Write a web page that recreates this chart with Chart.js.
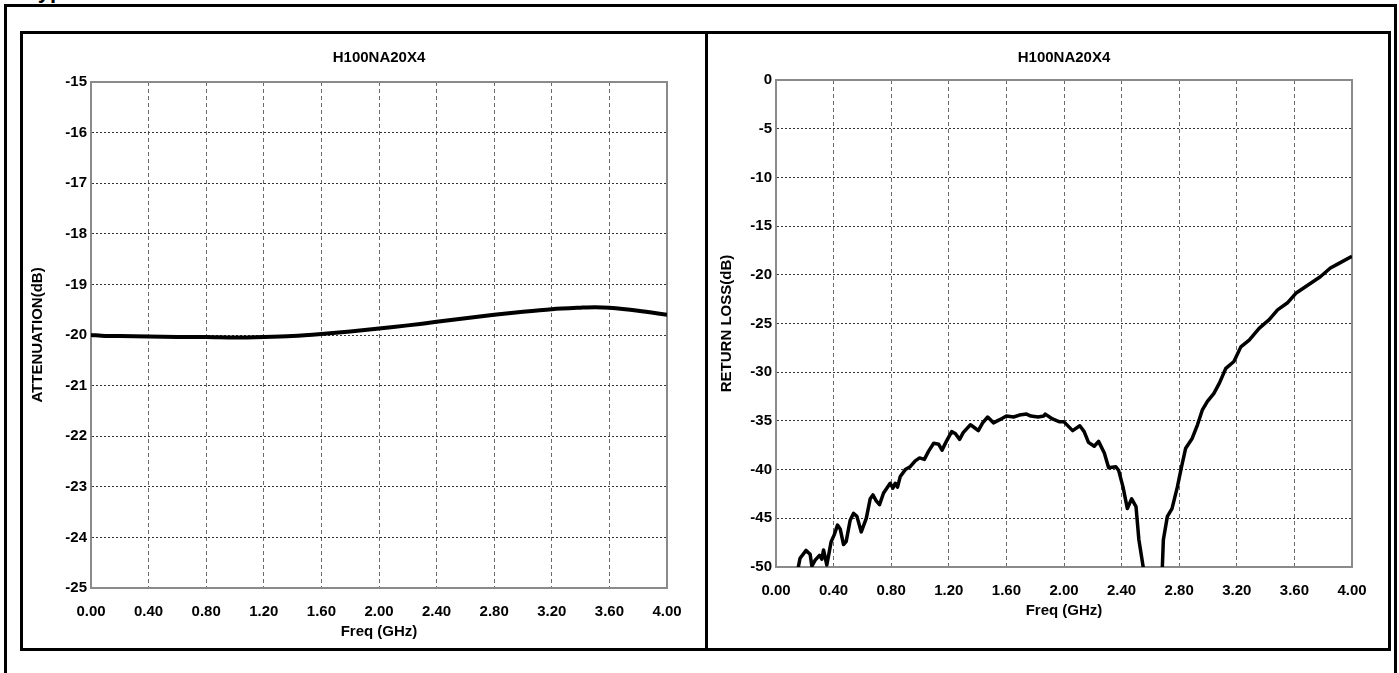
<!DOCTYPE html>
<html>
<head>
<meta charset="utf-8">
<script src="https://cdn.jsdelivr.net/npm/chart.js@4.4.1/dist/chart.umd.min.js"></script>
<style>
  body { margin: 0; width: 1399px; height: 673px; overflow: hidden; position: relative; background: #fff; }
  #head { position: absolute; left: 26px; top: -20px; font: bold 22px/22px "Liberation Sans", Arial, sans-serif; white-space: nowrap; }
  #outer { position: absolute; left: 4px; top: 4px; width: 1393px; height: 800px; border: 3px solid #000; box-sizing: border-box; }
  #panel { position: absolute; left: 20px; top: 31px; width: 1371px; height: 620px; border: 3px solid #000; box-sizing: border-box; }
  #divider { position: absolute; left: 705px; top: 31px; width: 3px; height: 620px; background: #000; }
  canvas { position: absolute; }
  #attenChart { left: 23px; top: 34px; }
  #rlChart { left: 708px; top: 34px; }
</style>
</head>
<body>
<div id="head">Typical Performance</div>
<div id="outer"></div>
<div id="panel"></div>
<div id="divider"></div>
<canvas id="attenChart" width="682" height="614"></canvas>
<canvas id="rlChart" width="680" height="614"></canvas>
<script>
const freqTicks = [0, 0.4, 0.8, 1.2, 1.6, 2.0, 2.4, 2.8, 3.2, 3.6, 4.0];
const attenTicks = [-15, -16, -17, -18, -19, -20, -21, -22, -23, -24, -25];
const rlTicks = [0, -5, -10, -15, -20, -25, -30, -35, -40, -45, -50];

// attenuation (left chart)
const attenFreq = [0, 0.1, 0.2, 0.4, 0.6, 0.8, 1.0, 1.2, 1.4, 1.6, 1.8, 2.0, 2.2, 2.4, 2.6, 2.8, 3.0, 3.2, 3.4, 3.5, 3.6, 3.8, 4.0];
const attenValues = [-20.00, -20.02, -20.02, -20.03, -20.04, -20.04, -20.05, -20.04, -20.02, -19.98, -19.93, -19.87, -19.81, -19.74, -19.67, -19.60, -19.54, -19.49, -19.46, -19.45, -19.46, -19.52, -19.60];

// return loss (right chart)
const rlFreq = [0.14, 0.155, 0.167, 0.209, 0.237, 0.249, 0.272, 0.302, 0.318, 0.330, 0.353, 0.383, 0.404, 0.427, 0.446, 0.469, 0.487,
  0.515, 0.538, 0.562, 0.592, 0.627, 0.654, 0.673, 0.696, 0.719, 0.747, 0.793, 0.812, 0.828, 0.844, 0.863, 0.898, 0.932, 0.967,
  0.997, 1.03, 1.06, 1.095, 1.13, 1.153, 1.183, 1.22, 1.245, 1.275, 1.30, 1.35, 1.37, 1.405, 1.435, 1.47, 1.51, 1.55, 1.60, 1.65,
  1.69, 1.74, 1.77, 1.82, 1.86, 1.87, 1.92, 1.97, 2.0, 2.06, 2.11, 2.14, 2.17, 2.21, 2.24, 2.28, 2.31, 2.36, 2.38, 2.41, 2.44,
  2.47, 2.50, 2.52, 2.55, 2.58, 2.62, 2.66, 2.683, 2.69, 2.718, 2.75, 2.787, 2.815, 2.845, 2.89, 2.927, 2.96, 2.996, 3.04, 3.08,
  3.124, 3.18, 3.228, 3.286, 3.355, 3.425, 3.483, 3.55, 3.61, 3.70, 3.78, 3.85, 3.90, 4.00];
const rlValues = [-52, -50, -49.1, -48.3, -48.7, -49.9, -49.3, -48.8, -49.2, -48.25, -49.8, -47.4, -46.7, -45.7, -46.1, -47.7, -47.4,
  -45.2, -44.5, -44.8, -46.4, -45.0, -43.0, -42.6, -43.2, -43.6, -42.4, -41.4, -41.9, -41.4, -41.8, -40.7, -40.0, -39.7, -39.1,
  -38.8, -38.95, -38.1, -37.3, -37.4, -38.0, -37.1, -36.1, -36.3, -36.9, -36.2, -35.4, -35.6, -36.0, -35.2, -34.6, -35.2, -34.9, -34.5, -34.6,
  -34.4, -34.3, -34.5, -34.6, -34.5, -34.3, -34.8, -35.1, -35.1, -36.0, -35.5, -36.1, -37.2, -37.6, -37.1, -38.3, -39.8, -39.7, -40.1, -41.8, -44.0,
  -43.0, -43.8, -47.2, -50, -56, -60, -56, -50, -47.2, -44.8, -44.0, -41.8, -39.8, -37.8, -36.8, -35.4, -33.9, -33.0, -32.2, -31.1,
  -29.6, -28.9, -27.4, -26.7, -25.5, -24.6, -23.6, -22.9, -21.9, -21.0, -20.2, -19.3, -18.9, -18.1];

const tickFont = { family: "'Liberation Sans Narrow', 'Liberation Sans', Arial, sans-serif", size: 15, weight: "bold" };
const axisTitleFont = { family: "'Liberation Sans', Arial, sans-serif", size: 15, weight: "bold" };

// solid grey box round the plot area
const plotFrame = {
    id: "plotFrame",
    beforeDatasetsDraw(chart) {
        const a = chart.chartArea;
        const ctx = chart.ctx;
        ctx.save();
        ctx.strokeStyle = "#8a8a8a";
        ctx.lineWidth = 2;
        ctx.strokeRect(a.left, a.top, a.right - a.left, a.bottom - a.top);
        ctx.restore();
    }
};

function makeChart(canvasId, xs, ys, yTicks, yTitle, opts) {
    const points = xs.map((x, i) => ({ x: x, y: ys[i] }));
    return new Chart(document.getElementById(canvasId), {
        type: "line",
        data: {
            datasets: [{
                data: points,
                borderColor: "#000",
                borderWidth: opts.lineWidth,
                pointRadius: 0,
                tension: opts.tension,
                borderJoinStyle: "round",
                clip: 0
            }]
        },
        options: {
            responsive: false,
            animation: false,
            layout: { padding: { left: 0, right: opts.right, top: 0, bottom: opts.bottom } },
            plugins: {
                legend: { display: false },
                tooltip: { enabled: false },
                title: {
                    display: true,
                    text: "H100NA20X4",
                    color: "#000",
                    fullSize: false,
                    font: tickFont,
                    padding: { top: 15, bottom: opts.titleGap }
                }
            },
            scales: {
                x: {
                    type: "linear",
                    min: 0,
                    max: 4,
                    afterBuildTicks: s => { s.ticks = freqTicks.map(v => ({ value: v })); },
                    afterFit: s => { s.height = 56; },
                    ticks: { color: "#000", font: tickFont, padding: 15, maxRotation: 0, callback: v => v.toFixed(2) },
                    grid: { color: "#6a6a6a", lineWidth: 1, drawTicks: false },
                    border: { color: "#8a8a8a", width: 2, dash: [4, 3] },
                    title: { display: true, text: "Freq (GHz)", color: "#000", font: tickFont, padding: { top: 0, bottom: 3 } }
                },
                y: {
                    min: yTicks[yTicks.length - 1],
                    max: yTicks[0],
                    afterBuildTicks: s => { s.ticks = yTicks.map(v => ({ value: v })); },
                    afterFit: s => { s.width = 68; },
                    ticks: { color: "#000", font: tickFont, padding: 4 },
                    grid: { color: "#333", lineWidth: 1, drawTicks: false },
                    border: { color: "#8a8a8a", width: 2, dash: [2, 2] },
                    title: { display: true, text: yTitle, color: "#000", font: axisTitleFont, padding: { top: opts.yTitlePad, bottom: 0 } }
                }
            }
        },
        plugins: [plotFrame]
    });
}

makeChart("attenChart", attenFreq, attenValues, attenTicks, "ATTENUATION(dB)",
    { lineWidth: 4, tension: 0.3, right: 38, bottom: 4, titleGap: 15, yTitlePad: 6 });
makeChart("rlChart", rlFreq, rlValues, rlTicks, "RETURN LOSS(dB)",
    { lineWidth: 3.5, tension: 0, right: 36, bottom: 25, titleGap: 13, yTitlePad: 10 });
</script>
</body>
</html>
